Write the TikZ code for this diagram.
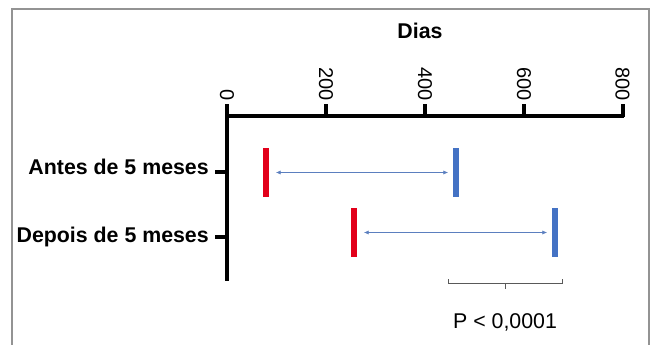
\documentclass[tikz,border=0pt]{standalone}
\usepackage{fontspec}
\setmainfont{Liberation Sans}
\usetikzlibrary{arrows.meta}
\definecolor{vermelho}{HTML}{E2001A}
\definecolor{azul}{HTML}{4472C4}
\definecolor{seta}{HTML}{5B7FBF}
\tikzset{
  eixo/.style={line width=3pt},
  negrito/.style={font=\fontsize{16pt}{19pt}\selectfont\bfseries, inner sep=0pt},
  texto/.style={font=\fontsize{15pt}{18pt}\selectfont, inner sep=0pt},
  barra/.style={minimum width=4.5pt, minimum height=36.75pt, inner sep=0pt, draw=none},
  intervalo/.style={thin, color=seta, {Latex[length=3.5pt,width=3pt]}-{Latex[length=3.5pt,width=3pt]}, shorten <=5pt, shorten >=3.5pt}
}
\begin{document}
\begin{tikzpicture}[x=0.75pt,y=-0.75pt]
  \useasboundingbox (0,0) rectangle (652,345);
  %moldura
  \draw[line width=1.1pt, color=gray!85] (12,345) -- (12,9) -- (649,9) -- (649,345);

  %titulo
  \node[negrito, anchor=base] (dias) at (420,39) {Dias};

  %eixo x
  \coordinate (O) at (227,116);
  \coordinate (X) at (624,116);
  \coordinate (Y) at (227,281);
  \draw[eixo] (X) -- (O) -- (Y);
  \foreach \v/\x in {0/227,200/326,400/425,600/524,800/622.5}{
    \draw[eixo] (\x,117) -- (\x,104);
    \node[texto, rotate=-90, anchor=east] (t\v) at (\x,101) {\v};
  }

  %eixo y
  \node[negrito, anchor=base east] (antes) at (209,175) {Antes de 5 meses};
  \node[negrito, anchor=base east] (depois) at (209,242) {Depois de 5 meses};
  \draw[eixo] (215,172) -- (227,172);
  \draw[eixo] (215,237) -- (227,237);

  %Barras
  \node[barra, fill=vermelho] (r1) at (266,172.5) {};
  \node[barra, fill=azul] (b1) at (456,172.5) {};
  \node[barra, fill=vermelho] (r2) at (354,232.5) {};
  \node[barra, fill=azul] (b2) at (555,232.5) {};
  \path[intervalo] (r1) edge (b1);
  \path[intervalo] (r2) edge (b2);

  %P
  \coordinate (k1) at (448,279);
  \coordinate (k2) at (562,279);
  \coordinate (km) at (505,283);
  \draw[thin, color=black!65] (k1) -- (k1 |- km) -- (k2 |- km) -- (k2);
  \draw[thin, color=black!65] (km) -- ++(0,6);
  \node[texto, font=\fontsize{16pt}{19pt}\selectfont, anchor=base] (p) at (505,328) {P < 0,0001};
\end{tikzpicture}
\end{document}
